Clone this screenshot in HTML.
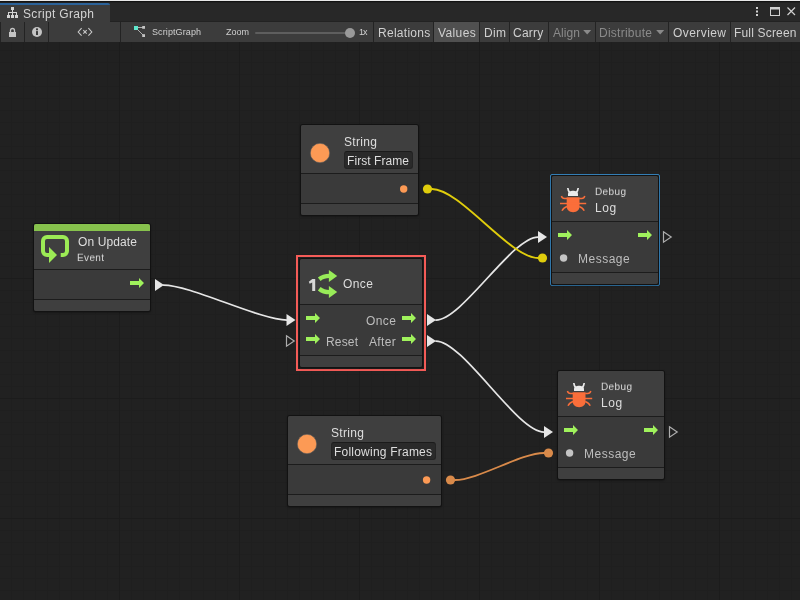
<!DOCTYPE html>
<html>
<head>
<meta charset="utf-8">
<title>Script Graph</title>
<style>
*{box-sizing:border-box;margin:0;padding:0}
html,body{width:800px;height:600px;overflow:hidden;background:#202020}
body{position:relative;font-family:"Liberation Sans",sans-serif;font-size:12px;color:#d2d2d2}
.abs{position:absolute}
#canvas{position:absolute;left:0;top:42px;width:800px;height:558px;background-color:#212121;
 background-image:
  linear-gradient(to right,#1c1c1c 1px,transparent 1px),
  linear-gradient(to bottom,#1c1c1c 1px,transparent 1px),
  linear-gradient(to right,#1f1f1f 1px,transparent 1px),
  linear-gradient(to bottom,#1f1f1f 1px,transparent 1px);
 background-size:120px 120px,120px 120px,12px 12px,12px 12px;
 background-position:-1px 0,0 -4px,-1px 0,0 -4px;}
#tabbar{position:absolute;left:0;top:0;width:800px;height:22px;background:#282828}
#topline{position:absolute;left:0;top:0;width:800px;height:1px;background:#e8e8e8}
#topdark{position:absolute;left:0;top:1px;width:800px;height:1px;background:#131313;box-shadow:0 1px 0 #212121}
#tabline{position:absolute;left:110px;top:21px;width:690px;height:1px;background:#222}
#tab{position:absolute;left:0;top:3px;width:110px;height:19px;background:#3c3c3c;border-top:2px solid #2b6299;border-radius:0 2px 0 0}
#toolbar{position:absolute;left:0;top:22px;width:800px;height:20px;background:#3c3c3c}
.sep{position:absolute;top:22px;width:1px;height:20px;background:#232323}
.t{position:absolute;white-space:pre;line-height:14px;height:14px;will-change:transform}
.t9{font-size:9px}
.t10{font-size:10px;transform:scaleY(.93);transform-origin:0 11px}
.dis{color:#8a8a8a}
.tb{color:#d0d0d0}
/* nodes */
.node{position:absolute;background:#3a3a3a;border-radius:2px;overflow:hidden;box-shadow:0 0 0 1px #121212,0 1px 2px 1px rgba(0,0,0,.3)}
.node .hd{position:absolute;left:0;top:0;width:100%;background:#3f3f3f}
.node .ln{position:absolute;left:0;width:100%;height:1px;background:#1c1c1c}
.node .ft{position:absolute;left:0;bottom:0;width:100%;height:11px;background:#3f3f3f}
.title{color:#dedede}
.sub{color:#dcdcdc}
.lbl{color:#bdbdbd}
.field{position:absolute;height:18px;background:#2a2a2a;border:1px solid #242424;border-top-color:#1b1b1b;border-radius:3px}
svg{position:absolute;left:0;top:0;overflow:visible}
</style>
</head>
<body>
<div id="canvas"></div>

<!-- tab bar -->
<div id="tabbar"></div>
<div id="topline"></div>
<div id="topdark"></div>
<div id="tabline"></div>
<div id="tab"></div>
<div id="toolbar"></div>
<div class="abs" style="left:434px;top:22px;width:45px;height:20px;background:#505050"></div>
<div class="sep" style="left:0"></div><div class="sep" style="left:24px"></div><div class="sep" style="left:48px"></div>
<div class="sep" style="left:120px"></div><div class="sep" style="left:373px"></div><div class="sep" style="left:433px"></div>
<div class="sep" style="left:479px"></div><div class="sep" style="left:509px"></div><div class="sep" style="left:548px"></div>
<div class="sep" style="left:595px"></div><div class="sep" style="left:668px"></div><div class="sep" style="left:730px"></div>
<div class="t" style="left:23px;top:7px;color:#d4d4d4;letter-spacing:.33px">Script Graph</div>
<div class="t t9 tb" style="left:152px;top:25px;letter-spacing:.1px">ScriptGraph</div>
<div class="t t9 tb" style="left:226px;top:25px">Zoom</div>
<div class="t t9 tb" style="left:359px;top:25px;letter-spacing:-1px">1x</div>
<div class="abs" style="left:255px;top:32px;width:95px;height:2px;background:#5e5e5e;border-radius:1px"></div>
<div class="abs" style="left:345px;top:28px;width:10px;height:10px;border-radius:5px;background:#999"></div>
<div class="t tb" style="left:378px;top:26px;letter-spacing:.28px">Relations</div>
<div class="t tb" style="left:438px;top:26px;letter-spacing:.39px">Values</div>
<div class="t tb" style="left:484px;top:26px;letter-spacing:.3px">Dim</div>
<div class="t tb" style="left:513px;top:26px;letter-spacing:.23px">Carry</div>
<div class="t dis" style="left:553px;top:26px;letter-spacing:.08px">Align</div>
<div class="t dis" style="left:599px;top:26px;letter-spacing:.25px">Distribute</div>
<div class="t tb" style="left:673px;top:26px;letter-spacing:.43px">Overview</div>
<div class="t tb" style="left:734px;top:26px;letter-spacing:.18px">Full Screen</div>
<svg width="800" height="44" viewBox="0 0 800 44">
 <!-- dropdown arrows -->
 <path d="M583.2 30 L591.2 30 L587.2 34.6Z" fill="#8a8a8a"/>
 <path d="M656.2 30 L664.2 30 L660.2 34.6Z" fill="#8a8a8a"/>
 <!-- tab hierarchy icon -->
 <g fill="#d4d4d4">
  <rect x="11" y="7" width="3" height="3"/>
  <rect x="12" y="10" width="1" height="3"/>
  <rect x="8" y="12" width="9" height="1"/>
  <rect x="8" y="12" width="1" height="3"/><rect x="12" y="12" width="1" height="3"/><rect x="16" y="12" width="1" height="3"/>
  <rect x="7" y="15" width="3" height="3"/><rect x="11" y="15" width="3" height="3"/><rect x="15" y="15" width="3" height="3"/>
 </g>
 <!-- lock -->
 <g>
  <rect x="9" y="32" width="7" height="5" fill="#c4c4c4"/>
  <path d="M10.5 32.5 V30.5 a2 2 0 0 1 4 0 V32.5" fill="none" stroke="#c4c4c4" stroke-width="1.3"/>
 </g>
 <!-- info -->
 <circle cx="37" cy="32" r="5" fill="#c4c4c4"/>
 <rect x="36" y="28.4" width="2" height="1.9" fill="#3c3c3c"/>
 <rect x="36" y="31.1" width="2" height="3.9" fill="#3c3c3c"/>
 <!-- <x> -->
 <g fill="none" stroke="#c8c8c8" stroke-width="1.1">
  <path d="M81.6 28.2 L78.2 32 L81.6 35.7"/>
  <path d="M88.4 28.2 L91.8 32 L88.4 35.7"/>
  <path d="M83.3 30.2 L86.7 33.7 M86.7 30.2 L83.3 33.7"/>
 </g>
 <!-- graph icon -->
 <g>
  <path d="M136 27.5 L143.5 27.5 M136.5 28.5 L143.5 35.5" stroke="#b0b0b0" stroke-width="1" fill="none"/>
  <rect x="134" y="26" width="4" height="4" fill="#5fe6cc"/>
  <rect x="142.2" y="26" width="2.8" height="2.8" fill="#c4c4c4"/>
  <rect x="142.2" y="34.2" width="2.8" height="2.8" fill="#c4c4c4"/>
 </g>
 <!-- window buttons -->
 <g fill="#d0d0d0">
  <rect x="756" y="7" width="2" height="2"/><rect x="756" y="10.5" width="2" height="2"/><rect x="756" y="14" width="2" height="2"/>
 </g>
 <rect x="770.5" y="7.5" width="9" height="8" fill="none" stroke="#d0d0d0" stroke-width="1"/>
 <rect x="770" y="7" width="10" height="2.5" fill="#d0d0d0"/>
 <path d="M787.5 7.5 L795 15 M795 7.5 L787.5 15" stroke="#d0d0d0" stroke-width="1.2" fill="none"/>
</svg>

<!-- NODES -->
<div id="nodes">
<!-- Node 1: On Update -->
<div class="node" style="left:34px;top:224px;width:116px;height:87px">
 <div class="hd" style="height:45px"></div>
 <div class="abs" style="left:0;top:0;width:100%;height:7px;background:#87c24d"></div>
 <div class="ln" style="top:45px"></div><div class="ln" style="top:75px"></div><div class="ft"></div>
</div>
<div class="t title" style="left:78px;top:235px;letter-spacing:.12px">On Update</div>
<div class="t t10 sub" style="left:77px;top:251px;letter-spacing:.36px">Event</div>

<!-- Node 2: String First Frame -->
<div class="node" style="left:301px;top:125px;width:117px;height:90px">
 <div class="hd" style="height:48px"></div>
 <div class="ln" style="top:48px"></div><div class="ln" style="top:78px"></div><div class="ft"></div>
</div>
<div class="t title" style="left:344px;top:135px;letter-spacing:.33px">String</div>
<div class="field" style="left:344px;top:151px;width:69px"></div>
<div class="t title" style="left:347px;top:154px;letter-spacing:.07px">First Frame</div>

<!-- Node 3: Once -->
<div class="abs" style="left:296px;top:255px;width:130px;height:116px;border:2px solid #f55c58"></div>
<div class="node" style="left:300px;top:259px;width:122px;height:108px">
 <div class="hd" style="height:45px"></div>
 <div class="ln" style="top:45px"></div><div class="ln" style="top:96px"></div><div class="ft"></div>
</div>
<div class="t title" style="left:343px;top:277px;letter-spacing:.4px">Once</div>
<div class="t lbl" style="left:366px;top:314px;letter-spacing:.4px">Once</div>
<div class="t lbl" style="left:326px;top:335px;letter-spacing:.16px">Reset</div>
<div class="t lbl" style="left:369px;top:335px;letter-spacing:.36px">After</div>

<!-- Node 4: Debug Log (selected) -->
<div class="abs" style="left:550px;top:174px;width:110px;height:112px;border:1px solid #3580b8;border-radius:2px"></div>
<div class="node" style="left:552px;top:176px;width:106px;height:108px">
 <div class="hd" style="height:45px"></div>
 <div class="ln" style="top:45px"></div><div class="ln" style="top:96px"></div><div class="ft"></div>
</div>
<div class="t t10 sub" style="left:595px;top:185px;letter-spacing:.38px">Debug</div>
<div class="t title" style="left:595px;top:201px;letter-spacing:.6px">Log</div>
<div class="t lbl" style="left:578px;top:252px;letter-spacing:.5px">Message</div>

<!-- Node 5: Debug Log -->
<div class="node" style="left:558px;top:371px;width:106px;height:108px">
 <div class="hd" style="height:45px"></div>
 <div class="ln" style="top:45px"></div><div class="ln" style="top:96px"></div><div class="ft"></div>
</div>
<div class="t t10 sub" style="left:601px;top:380px;letter-spacing:.38px">Debug</div>
<div class="t title" style="left:601px;top:396px;letter-spacing:.6px">Log</div>
<div class="t lbl" style="left:584px;top:447px;letter-spacing:.5px">Message</div>

<!-- Node 6: String Following Frames -->
<div class="node" style="left:288px;top:416px;width:153px;height:90px">
 <div class="hd" style="height:48px"></div>
 <div class="ln" style="top:48px"></div><div class="ln" style="top:78px"></div><div class="ft"></div>
</div>
<div class="t title" style="left:331px;top:426px;letter-spacing:.33px">String</div>
<div class="field" style="left:331px;top:442px;width:105px"></div>
<div class="t title" style="left:334px;top:445px;letter-spacing:.22px">Following Frames</div>
</div>

<svg id="wires" width="800" height="600" viewBox="0 0 800 600">
 <!-- connections -->
 <g fill="none" stroke-linecap="round">
  <path d="M163.5 285 C190.5 285 260 320 287 320" stroke="#e6e6e6" stroke-width="1.75"/>
  <path d="M436 320 C462 320 512 237 538 237" stroke="#e6e6e6" stroke-width="1.75"/>
  <path d="M436 341 C463 341 517 432 544 432" stroke="#e6e6e6" stroke-width="1.75"/>
  <path d="M432 189 C460 189 510 258 538 258" stroke="#e0cd0c" stroke-width="1.85"/>
  <path d="M455 480 C478 480 521 453 544 453" stroke="#d98a4a" stroke-width="1.85"/>
 </g>
 <!-- filled flow port triangles -->
 <g fill="#e6e6e6">
  <path d="M155 279 L164 285 L155 291Z"/>
  <path d="M286.5 314 L295.5 320 L286.5 326Z"/>
  <path d="M427 314 L436 320 L427 326Z"/>
  <path d="M427 335 L436 341 L427 347Z"/>
  <path d="M538 231 L547 237 L538 243Z"/>
  <path d="M544 426 L553 432 L544 438Z"/>
 </g>
 <!-- empty flow port triangles -->
 <g fill="none" stroke="#adadad" stroke-width="1.2">
  <path d="M286.5 335.8 L294.2 341 L286.5 346.2Z"/>
  <path d="M663.5 231.8 L671.2 237 L663.5 242.2Z"/>
  <path d="M669.5 426.8 L677.2 432 L669.5 437.2Z"/>
 </g>
 <!-- value port dots -->
 <circle cx="427.5" cy="189" r="4.6" fill="#e0cd0c"/>
 <circle cx="542.5" cy="258" r="4.6" fill="#e0cd0c"/>
 <circle cx="450.5" cy="480" r="4.6" fill="#d98a4a"/>
 <circle cx="548.5" cy="453" r="4.6" fill="#d98a4a"/>
 <!-- small in-node dots -->
 <circle cx="403.7" cy="189" r="3.7" fill="#fc9a55"/>
 <circle cx="426.6" cy="480" r="3.7" fill="#fc9a55"/>
 <circle cx="563.6" cy="258" r="3.7" fill="#c4c4c4"/>
 <circle cx="569.6" cy="453" r="3.7" fill="#c4c4c4"/>
 <!-- string type icons -->
 <circle cx="320" cy="153" r="9.7" fill="#fc9a55" stroke="#5a5a5a" stroke-width=".6"/>
 <circle cx="307" cy="444" r="9.7" fill="#fc9a55" stroke="#5a5a5a" stroke-width=".6"/>
 <!-- flow arrows inside nodes -->
 <path d="M130 281 H139 V278 L144 283 L139 288 V285 H130Z" fill="#a0f25c"/><path d="M306 316 H315 V313 L320 318 L315 323 V320 H306Z" fill="#a0f25c"/><path d="M306 337 H315 V334 L320 339 L315 344 V341 H306Z" fill="#a0f25c"/><path d="M402 316 H411 V313 L416 318 L411 323 V320 H402Z" fill="#a0f25c"/><path d="M402 337 H411 V334 L416 339 L411 344 V341 H402Z" fill="#a0f25c"/><path d="M558 233 H567 V230 L572 235 L567 240 V237 H558Z" fill="#a0f25c"/><path d="M638 233 H647 V230 L652 235 L647 240 V237 H638Z" fill="#a0f25c"/><path d="M564 428 H573 V425 L578 430 L573 435 V432 H564Z" fill="#a0f25c"/><path d="M644 428 H653 V425 L658 430 L653 435 V432 H644Z" fill="#a0f25c"/>
 <!-- On Update icon -->
 <g>
  <path d="M60.7 255 H63 a4 4 0 0 0 4 -4 V241 a4 4 0 0 0 -4 -4 H47 a4 4 0 0 0 -4 4 V251 a4 4 0 0 0 4 4 H50" fill="none" stroke="#9ceb55" stroke-width="4"/>
  <path d="M49 247 L57 255 L49 263Z" fill="#9ceb55"/>
 </g>
 <!-- Once icon -->
 <g id="onceicon">
  <path d="M308.8 281.7 L312.3 279 H315.2 V291 H312.2 V282.4 L309.7 283.7Z" fill="#d6d6d6"/>
  <path d="M329.5 273.7 C325 273.7 320.5 275 317.9 277.6 L320.6 281 C323 279 326 278.1 329.5 278.1Z" fill="#98ec58"/>
  <path d="M328.9 270 L337.2 276 L328.9 282Z" fill="#98ec58"/>
  <path d="M329.5 294.3 C325 294.3 320.5 293 317.9 290.4 L320.6 287 C323 289 326 289.9 329.5 289.9Z" fill="#98ec58"/>
  <path d="M328.9 298 L337.2 292 L328.9 286Z" fill="#98ec58"/>
 </g>
 <!-- Bug icons -->
 <g id="bug1">
  <path d="M568 196 V194.2 C568 191.6 570.4 190.8 573 190.8 C575.6 190.8 578 191.6 578 194.2 V196Z" fill="#eaeaea"/>
  <path d="M567.8 188 C568 190 568.6 191.6 569.8 192.8 M578.2 188 C578 190 577.4 191.6 576.2 192.8" fill="none" stroke="#eaeaea" stroke-width="1.7"/>
  <path d="M566.7 197.2 H579.5 V206 C579.5 210 577 212.2 573.1 212.2 C569.2 212.2 566.7 210 566.7 206Z" fill="#fa6e3a"/>
  <g fill="none" stroke="#fa6e3a" stroke-width="1.5">
   <path d="M567 198.4 H564.6 C562.6 198.4 561.8 197.5 561.4 196"/>
   <path d="M579.2 198.4 H581.6 C583.6 198.4 584.4 197.5 584.8 196"/>
   <path d="M560 203.5 H586.2"/>
   <path d="M567 206.4 C564.6 207 563 208.6 562 210.8"/>
   <path d="M579.2 206.4 C581.6 207 583.2 208.6 584.2 210.8"/>
  </g>
 </g>
 <g transform="translate(6 195)">
  <path d="M568 196 V194.2 C568 191.6 570.4 190.8 573 190.8 C575.6 190.8 578 191.6 578 194.2 V196Z" fill="#eaeaea"/>
  <path d="M567.8 188 C568 190 568.6 191.6 569.8 192.8 M578.2 188 C578 190 577.4 191.6 576.2 192.8" fill="none" stroke="#eaeaea" stroke-width="1.7"/>
  <path d="M566.7 197.2 H579.5 V206 C579.5 210 577 212.2 573.1 212.2 C569.2 212.2 566.7 210 566.7 206Z" fill="#fa6e3a"/>
  <g fill="none" stroke="#fa6e3a" stroke-width="1.5">
   <path d="M567 198.4 H564.6 C562.6 198.4 561.8 197.5 561.4 196"/>
   <path d="M579.2 198.4 H581.6 C583.6 198.4 584.4 197.5 584.8 196"/>
   <path d="M560 203.5 H586.2"/>
   <path d="M567 206.4 C564.6 207 563 208.6 562 210.8"/>
   <path d="M579.2 206.4 C581.6 207 583.2 208.6 584.2 210.8"/>
  </g>
 </g>
</svg>
</body>
</html>
